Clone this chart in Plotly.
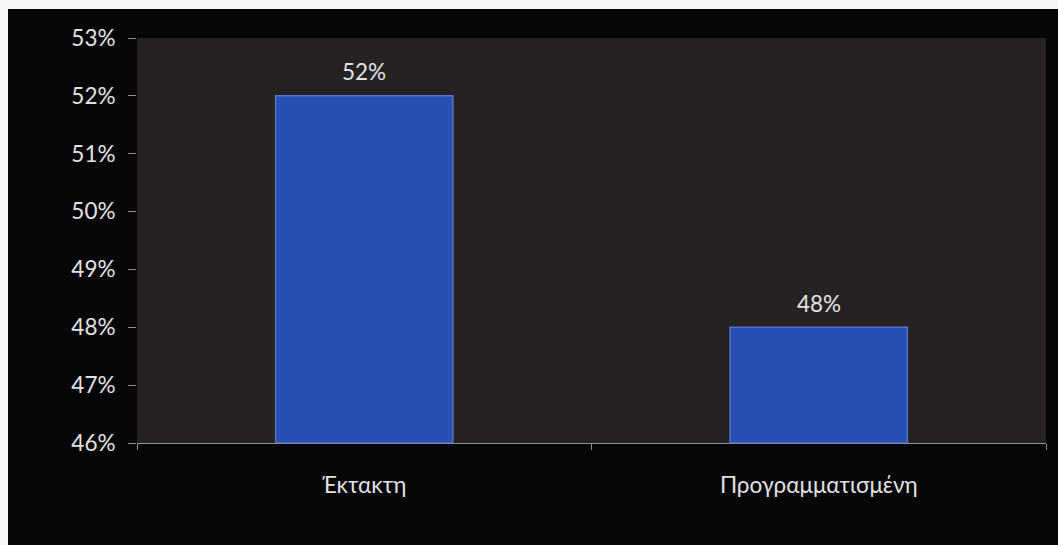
import plotly.graph_objects as go

categories = ["Έκτακτη", "Προγραμματισμένη"]
values = [52, 48]
y_tick_vals = [46, 47, 48, 49, 50, 51, 52, 53]
y_tick_text = ["46%", "47%", "48%", "49%", "50%", "51%", "52%", "53%"]

W, H = 1058, 545
L, R, T, B = 137, 12, 38, 102
pw, ph = W - L - R, H - T - B

font_family = "Lato, 'Open Sans', sans-serif"
text_color = "#e2e2e2"
axis_gray = "#8c8c8c"
fsize = 22.5

fig = go.Figure()
fig.add_trace(go.Bar(
    x=categories,
    y=[v - 46 for v in values],
    base=46,
    marker=dict(color="#2a4fb4", line=dict(color="#4f74d0", width=1.5)),
    hoverinfo="skip",
))

for c, v in zip(categories, values):
    fig.add_annotation(
        x=c, y=v, text=f"{v}%", showarrow=False,
        yanchor="middle", yshift=24,
        font=dict(family=font_family, size=fsize, color=text_color),
    )

# white border strips (top and left) of the photographed page
def px_to_paper_x(px):
    return (px - L) / pw

def px_to_paper_y(py):
    return (H - B - py) / ph

fig.add_shape(type="rect", xref="paper", yref="paper",
              x0=px_to_paper_x(0), x1=px_to_paper_x(8),
              y0=px_to_paper_y(H), y1=px_to_paper_y(0),
              fillcolor="#f4f6f8", line=dict(width=0), layer="above")
fig.add_shape(type="rect", xref="paper", yref="paper",
              x0=px_to_paper_x(0), x1=px_to_paper_x(W),
              y0=px_to_paper_y(9), y1=px_to_paper_y(0),
              fillcolor="#f4f6f8", line=dict(width=0), layer="above")

fig.update_layout(
    width=W, height=H,
    margin=dict(l=L, r=R, t=T, b=B, pad=0),
    paper_bgcolor="#060606",
    plot_bgcolor="#262222",
    bargap=0.61,
    showlegend=False,
    font=dict(family=font_family, color=text_color),
)
fig.update_xaxes(
    type="category",
    tickson="boundaries",
    ticks="outside", ticklen=6, tickcolor=axis_gray, tickwidth=1,
    showline=True, linecolor=axis_gray, linewidth=1,
    showgrid=False, zeroline=False,
    tickfont=dict(family=font_family, size=fsize, color=text_color),
    ticklabelstandoff=22,
)
fig.update_yaxes(
    range=[46, 53],
    tickmode="array", tickvals=y_tick_vals, ticktext=y_tick_text,
    ticks="outside", ticklen=8, tickcolor=axis_gray, tickwidth=1,
    showline=False, showgrid=False, zeroline=False,
    tickfont=dict(family=font_family, size=fsize, color=text_color),
    ticklabelstandoff=8,
)

fig.write_html("out.html")
